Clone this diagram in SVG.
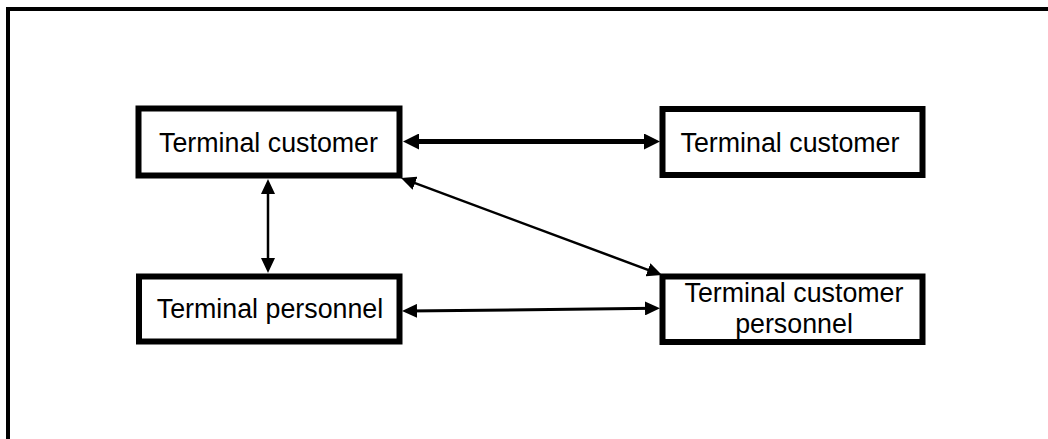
<svg xmlns="http://www.w3.org/2000/svg" width="1048" height="439" viewBox="0 0 1048 439">
  <style>
    .box { fill: #ffffff; stroke: #000000; stroke-width: 6; }
    .lbl { font-family: "Liberation Sans", Arial, sans-serif; font-size: 26.8px; fill: #000000; text-anchor: middle; }
    .thick { stroke: #000000; stroke-width: 5; fill: none; marker-start: url(#arrowThick); marker-end: url(#arrowThick); }
    .thin { stroke: #000000; stroke-width: 2.5; fill: none; marker-start: url(#arrowThin); marker-end: url(#arrowThin); }
  </style>
  <defs>
    <marker id="arrowThick" markerUnits="userSpaceOnUse" markerWidth="16" markerHeight="16" refX="9" refY="8" orient="auto-start-reverse">
      <path d="M0,0 L16,8 L0,16 z" fill="#000000"/>
    </marker>
    <marker id="arrowThin" markerUnits="userSpaceOnUse" markerWidth="15" markerHeight="14" refX="10" refY="7" orient="auto-start-reverse">
      <path d="M0,0 L15,7 L0,14 z" fill="#000000"/>
    </marker>
  </defs>
  <rect x="0" y="0" width="1048" height="439" fill="#ffffff"/>
  <path d="M8,445 V9 H1060" fill="none" stroke="#000000" stroke-width="4"/>

  <g id="connectors">
    <line class="thick" x1="410" y1="141.5" x2="653" y2="141.5"/>
    <line class="thin" x1="268" y1="184" x2="268" y2="268"/>
    <line class="thin" x1="405.7" y1="179.7" x2="657.3" y2="273.3"/>
    <line class="thin" x1="407" y1="311" x2="655" y2="308.3" style="stroke-width:3"/>
  </g>

  <g id="node-terminal-customer-1">
    <rect class="box" x="138.5" y="108.5" width="261" height="67"/>
    <text class="lbl" x="268.5" y="151.5">Terminal customer</text>
  </g>
  <g id="node-terminal-customer-2">
    <rect class="box" x="662.5" y="109" width="260" height="66"/>
    <text class="lbl" x="790" y="152">Terminal customer</text>
  </g>
  <g id="node-terminal-personnel">
    <rect class="box" x="139" y="276.5" width="260.5" height="65"/>
    <text class="lbl" x="270" y="317.5">Terminal personnel</text>
  </g>
  <g id="node-terminal-customer-personnel">
    <rect class="box" x="662.5" y="276.5" width="260" height="65.5"/>
    <text class="lbl" x="794" y="302">Terminal customer</text>
    <text class="lbl" x="794" y="333">personnel</text>
  </g>
</svg>
